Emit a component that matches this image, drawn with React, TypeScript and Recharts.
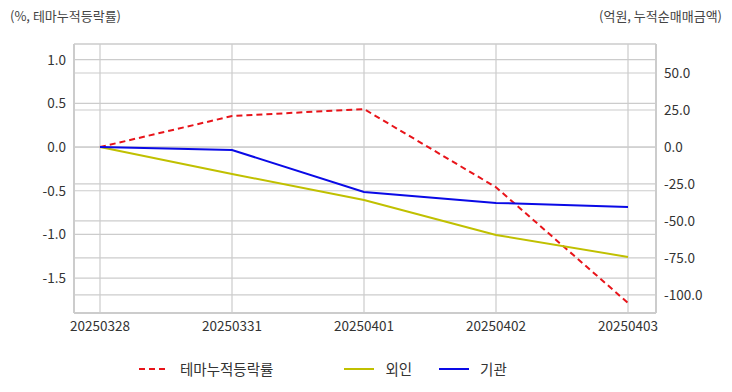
import {
  LineChart, Line, XAxis, YAxis, CartesianGrid, Legend,
} from 'recharts';

const dates = ['20250328', '20250331', '20250401', '20250402', '20250403'];
const themeRate = [0.0, 0.355, 0.435, -0.46, -1.785];
const foreign = [0.0, -18.2, -35.8, -59.5, -74.3];
const inst = [0.0, -2.0, -30.4, -37.8, -40.5];

const leftTicks = [-1.5, -1.0, -0.5, 0.0, 0.5, 1.0];
const rightTicks = [-100, -75, -50, -25, 0, 25, 50];

const data = dates.map((d, i) => ({ date: d, theme: themeRate[i], foreign: foreign[i], inst: inst[i] }));

const FONT = '"Noto Sans CJK KR", "Noto Sans", sans-serif';
const GRID = '#cccccc';
const TICK = { fontSize: 13.5, fill: '#333', fontFamily: FONT };

const legendItems = [
  { name: '테마누적등락률', color: '#e8141a', dash: '6 4', gap: 71 },
  { name: '외인', color: '#c0c000', dash: undefined, gap: 27 },
  { name: '기관', color: '#0a0ae6', dash: undefined, gap: 0 },
];

function LegendBox() {
  return (
    <div style={{ display: 'flex', justifyContent: 'flex-start', paddingLeft: 139, fontFamily: FONT, fontSize: 14.5, color: '#333' }}>
      {legendItems.map(it => (
        <div key={it.name} style={{ display: 'flex', alignItems: 'center', marginRight: it.gap }}>
          <svg width={30} height={10} style={{ marginRight: 11 }}>
            <line x1={0} y1={5} x2={30} y2={5} stroke={it.color} strokeWidth={2} strokeDasharray={it.dash} />
          </svg>
          <span>{it.name}</span>
        </div>
      ))}
    </div>
  );
}

export default function App() {
  return (
    <div style={{ position: 'absolute', left: 0, top: 0, width: 732, height: 392, background: '#fff', fontFamily: FONT }}>
      <div style={{ position: 'absolute', left: 10, top: 6, fontSize: 13, color: '#444' }}>(%, 테마누적등락률)</div>
      <div style={{ position: 'absolute', right: 10, top: 6, fontSize: 13, color: '#444' }}>(억원, 누적순매매금액)</div>
      <LineChart width={732} height={392} data={data} margin={{ top: 44, right: 20, left: 10, bottom: 12 }}>
        <CartesianGrid yAxisId="l" stroke={GRID} strokeWidth={1.2} />
        <CartesianGrid yAxisId="r" stroke={GRID} strokeWidth={1.2} vertical={false} />
        <XAxis
          dataKey="date"
          padding={{ left: 26, right: 28 }}
          tick={TICK}
          tickLine={false}
          axisLine={{ stroke: GRID, strokeWidth: 2 }}
          height={30}
          interval={0}
        />
        <XAxis xAxisId="top" orientation="top" dataKey="date" tick={false} tickLine={false} height={0} axisLine={{ stroke: GRID, strokeWidth: 2 }} />
        <YAxis
          yAxisId="l"
          domain={[-1.9, 1.18]}
          ticks={leftTicks}
          tickFormatter={(v: number) => v.toFixed(1)}
          tick={TICK}
          tickLine={false}
          axisLine={{ stroke: GRID, strokeWidth: 2 }}
          width={64}
          allowDataOverflow
        />
        <YAxis
          yAxisId="r"
          orientation="right"
          domain={[-112.2, 69.6]}
          ticks={rightTicks}
          tickFormatter={(v: number) => v.toFixed(1)}
          tick={TICK}
          tickLine={false}
          axisLine={{ stroke: GRID, strokeWidth: 2 }}
          width={56}
          allowDataOverflow
        />
        <Line yAxisId="l" dataKey="theme" name="테마누적등락률" stroke="#e8141a" strokeWidth={2} strokeDasharray="6 4" dot={false} isAnimationActive={false} />
        <Line yAxisId="r" dataKey="foreign" name="외인" stroke="#c0c000" strokeWidth={2} dot={false} isAnimationActive={false} />
        <Line yAxisId="r" dataKey="inst" name="기관" stroke="#0a0ae6" strokeWidth={2} dot={false} isAnimationActive={false} />
        <Legend verticalAlign="bottom" height={37} wrapperStyle={{ top: 358, left: 0, width: 732 }} content={() => <LegendBox />} />
      </LineChart>
    </div>
  );
}
